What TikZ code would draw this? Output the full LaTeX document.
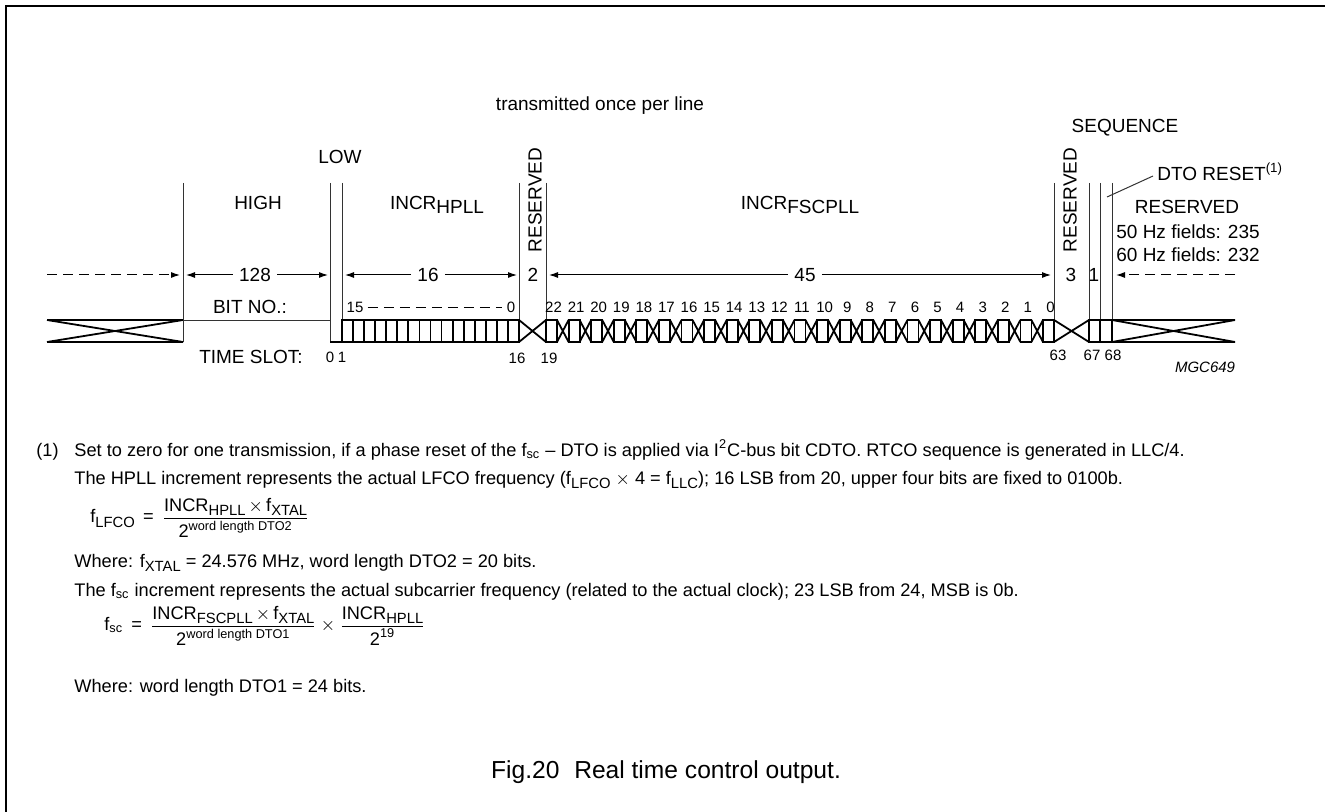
\documentclass[tikz,border=0pt]{standalone}
\usepackage{fontspec}
\setmainfont{Liberation Sans}
\usepackage{amsmath}
\usetikzlibrary{arrows.meta, positioning, calc}
\newcommand{\lowtxt}[1]{\raisebox{-0.45ex}{\fontsize{7.4}{8}\selectfont #1}}
\tikzset{
    sig/.style={line width=0.9pt, black},
    slotline/.style={line width=0.5pt, black!80},
    dimarrow/.style={-{Latex[length=4.5pt, width=3pt]}, line width=0.5pt},
    dimdash/.style={dimarrow, dash pattern=on 5pt off 3pt},
    lbl/.style={inner sep=0pt, font=\fontsize{9.5}{11}\selectfont},
    dimlbl/.style={inner xsep=3pt, inner ysep=0pt, font=\fontsize{9.5}{11}\selectfont},
    numlbl/.style={inner sep=0pt, font=\fontsize{7.5}{9}\selectfont},
    note/.style={anchor=base west, inner sep=0pt, font=\fontsize{9.1}{11}\selectfont},
}

\begin{document}
\begin{tikzpicture}[x=0.5pt, y=-0.5pt]
    \useasboundingbox (0,0) rectangle (1325,812);

    % Rahmen
    \draw[line width=1pt] (6,812) -- (6,6) -- (1325,6);

    % Zeitschlitz-Grenzen
    \foreach \x in {183,330,342,519,546,1054,1089,1100,1112}
        \draw[slotline] (\x,183) -- (\x,342);

    % Signal: undefiniert links, HIGH, LOW
    \draw[sig] (47,320) -- (183,320) (47,342) -- (183,342)
               (47,320) -- (183,342) (47,342) -- (183,320);
    \draw[slotline] (183,320) -- (330,320);
    \draw[sig] (330,342) -- (342,342);

    % INCR HPLL, 16 Bit
    \draw[sig] (342,320) rectangle (519,342);
    \foreach \i in {1,...,15}
        \draw[sig] ({342+\i*11.06},320) -- ++(0,22);
    \draw[sig] (519,320) -- (546,342) (519,342) -- (546,320);

    % INCR FSCPLL, 23 Bit
    \foreach \i in {0,...,22} {
        \pgfmathsetmacro\xa{546+\i*22.59}
        \pgfmathtruncatemacro\bit{22-\i}
        \draw[sig] (\xa,320) rectangle ++(11,22);
        \node[numlbl, anchor=base] (f\bit) at (\xa+7.5,313) {\bit};
    }
    \foreach \i in {0,...,21} {
        \pgfmathsetmacro\xb{557+\i*22.59}
        \draw[sig] (\xb,320) -- ++(11.59,22) (\xb,342) -- ++(11.59,-22);
    }

    % reserviert, Sequenz, undefiniert rechts
    \draw[sig] (1054,320) -- (1089,342) (1054,342) -- (1089,320);
    \draw[sig] (1089,320) rectangle (1112,342);
    \draw[sig] (1100,320) -- (1100,342);
    \draw[sig] (1112,320) -- (1235,320) (1112,342) -- (1235,342)
               (1112,320) -- (1235,342) (1112,342) -- (1235,320);

    % Bemassung
    \coordinate (dA) at (47,275);
    \coordinate (dB) at (180,275);
    \coordinate (dC) at (186,275);
    \coordinate (dD) at (328,275);
    \coordinate (dE) at (345,275);
    \coordinate (dF) at (517,275);
    \coordinate (dG) at (549,275);
    \coordinate (dH) at (1051,275);
    \coordinate (dI) at (1116,275);
    \coordinate (dJ) at (1235,275);
    \node[dimlbl] (n128) at (255,275) {128};
    \node[dimlbl] (n16) at (428,275) {16};
    \node[dimlbl] (n45) at (805,275) {45};
    \node[lbl] (n2) at (533,275) {2};
    \node[lbl] (n3) at (1071,275) {3};
    \node[lbl] (n1) at (1094,275) {1};
    \draw[dimdash] (dA) -- (dB);
    \draw[dimarrow] (n128) -- (dC);
    \draw[dimarrow] (n128) -- (dD);
    \draw[dimarrow] (n16) -- (dE);
    \draw[dimarrow] (n16) -- (dF);
    \draw[dimarrow] (n45) -- (dG);
    \draw[dimarrow] (n45) -- (dH);
    \draw[dimdash] (dJ) -- (dI);

    % Beschriftung oben
    \node[lbl] (once) at (600,106) {transmitted once per line};
    \node[lbl] (seq) at (1125,128) {SEQUENCE};
    \node[lbl] (low) at (340,157) {LOW};
    \node[lbl] (high) at (258,203) {HIGH};
    \node[lbl] (hpll) at (437,205) {INCR\raisebox{-0.45ex}{HPLL}};
    \node[lbl] (fscpll) at (800,205) {INCR\raisebox{-0.45ex}{FSCPLL}};
    \node[lbl, rotate=90] (res1) at (535,200) {RESERVED};
    \node[lbl, rotate=90] (res2) at (1070,200) {RESERVED};
    \node[lbl, anchor=west] (dto) at (1157,172) {DTO RESET\textsuperscript{(1)}};
    \coordinate (dtotip) at (1107,197);
    \draw[slotline] (dtotip) -- ([xshift=-2pt, yshift=-2pt]dto.west);
    \node[lbl] (resR) at (1187,207) {RESERVED};
    \node[lbl] (f50) at (1188,232) {50 Hz fields: 235};
    \node[lbl] (f60) at (1188,255) {60 Hz fields: 232};

    % Bit- und Zeitschlitznummern
    \node[lbl] (bitno) at (250,307) {BIT NO.:};
    \node[numlbl] (h15) at (355,307) {15};
    \node[numlbl] (h0) at (511,307) {0};
    \draw[line width=0.5pt, dash pattern=on 5pt off 3pt] ([xshift=2pt]h15.east) -- ([xshift=-2pt]h0.west);
    \node[lbl] (tslot) at (251,357) {TIME SLOT:};
    \node[numlbl] (t0) at (330,357) {0};
    \node[numlbl] (t1) at (342,357) {1};
    \node[numlbl] (t16) at (517,358) {16};
    \node[numlbl] (t19) at (549,358) {19};
    \node[numlbl] (t63) at (1058,355) {63};
    \node[numlbl] (t67) at (1092,355) {67};
    \node[numlbl] (t68) at (1113,355) {68};
    \node[numlbl, font=\fontsize{7.5}{9}\selectfont\itshape] (mgc) at (1205,367) {MGC649};

    % Anmerkungen
    \node[note] (fn) at (36,456) {(1)};
    \node[note] (l1) at (74,456) {Set to zero for one transmission, if a phase reset of the f\textsubscript{sc} -- DTO is applied via I\textsuperscript{2}C-bus bit CDTO. RTCO sequence is generated in LLC/4.};
    \node[note] (l2) at (74,484) {The HPLL increment represents the actual LFCO frequency (f\lowtxt{LFCO} $\times$ 4 = f\lowtxt{LLC}); 16 LSB from 20, upper four bits are fixed to 0100b.};
    \node[note, anchor=west] (eq1) at (90,518) {f\lowtxt{LFCO} \,=\, $\dfrac{\text{INCR\lowtxt{HPLL}}\,{\times}\,\text{f\lowtxt{XTAL}}}{\text{2\textsuperscript{word length DTO2}}}$};
    \node[note] (l3) at (74,567) {Where: f\lowtxt{XTAL} = 24.576 MHz, word length DTO2 = 20 bits.};
    \node[note] (l4) at (74,596) {The f\textsubscript{sc} increment represents the actual subcarrier frequency (related to the actual clock); 23 LSB from 24, MSB is 0b.};
    \node[note, anchor=west] (eq2) at (104,626) {f\textsubscript{sc} \,=\, $\dfrac{\text{INCR\lowtxt{FSCPLL}}\,{\times}\,\text{f\lowtxt{XTAL}}}{\text{2\textsuperscript{word length DTO1}}}\times\dfrac{\text{INCR\lowtxt{HPLL}}}{\text{2\textsuperscript{19}}}$};
    \node[note] (l5) at (74,692) {Where: word length DTO1 = 24 bits.};

    % Bildunterschrift
    \node[font=\fontsize{12.3}{14}\selectfont] (cap) at (666,772) {Fig.20\hspace{0.6em}Real time control output.};
\end{tikzpicture}
\end{document}
